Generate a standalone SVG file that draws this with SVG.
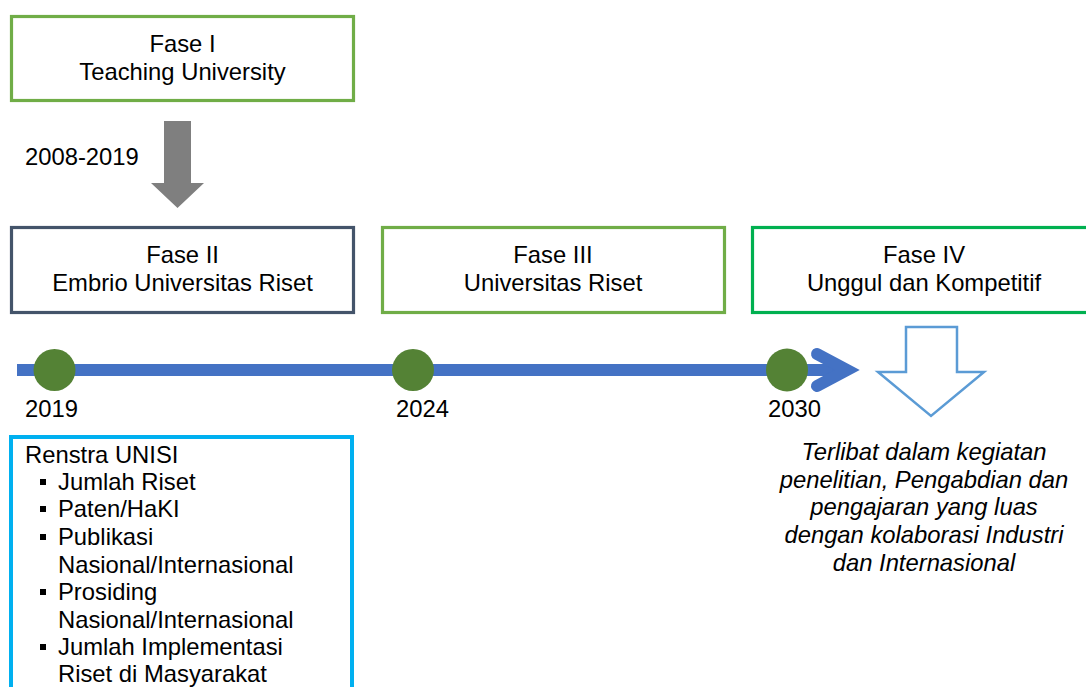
<svg xmlns="http://www.w3.org/2000/svg" width="1086" height="687" viewBox="0 0 1086 687">
<style>
text{font-family:"Liberation Sans",Arial,sans-serif;font-size:23.8px;fill:#000}
.c{text-anchor:middle}
.it{font-style:italic;text-anchor:middle}
.box{fill:#fff;stroke-width:3.2}
.dot{fill:#548235}
</style>
<rect width="1086" height="687" fill="#fff"/>
<g id="connectors">
<path id="arrow-gray" d="M164,121 H191 V183 H204 L177.5,208 L151,183 H164 Z" fill="#7f7f7f"/>
<line x1="17" y1="370" x2="842" y2="370" stroke="#4472C4" stroke-width="12"/>
<polyline points="817,354 847,370 817,386" fill="none" stroke="#4472C4" stroke-width="12" stroke-linecap="round" stroke-linejoin="miter"/>
<path id="arrow-hollow" d="M906,327 H957 V372 H984 L931,416 L878,372 H906 Z" fill="#fff" stroke="#5B9BD5" stroke-width="2.5" stroke-linejoin="miter"/>
</g>
<text x="25" y="165">2008-2019</text>
<g id="fase1">
<rect class="box" x="11.5" y="16.5" width="342" height="84" stroke="#70AD47"/>
<text class="c" x="182.5" y="52">Fase I</text>
<text class="c" x="182.5" y="80">Teaching University</text>
</g>
<g id="fase2">
<rect class="box" x="11.5" y="227.5" width="342" height="85" stroke="#44546A" stroke-width="3.6"/>
<text class="c" x="182.5" y="263">Fase II</text>
<text class="c" x="182.5" y="291">Embrio Universitas Riset</text>
</g>
<g id="fase3">
<rect class="box" x="382.5" y="227.5" width="342" height="85" stroke="#70AD47"/>
<text class="c" x="553" y="263">Fase III</text>
<text class="c" x="553" y="291">Universitas Riset</text>
</g>
<g id="fase4">
<rect class="box" x="752.5" y="227.5" width="340" height="85" stroke="#00B050"/>
<text class="c" x="924" y="263">Fase IV</text>
<text class="c" x="924" y="291">Unggul dan Kompetitif</text>
</g>
<g id="milestone-2019">
<circle class="dot" cx="54.5" cy="370" r="21"/>
<text x="25" y="417">2019</text>
</g>
<g id="milestone-2024">
<circle class="dot" cx="413" cy="370" r="21"/>
<text x="396" y="417">2024</text>
</g>
<g id="milestone-2030">
<ellipse class="dot" cx="787" cy="370" rx="21" ry="21.5"/>
<text x="768" y="417">2030</text>
</g>
<g id="renstra">
<rect x="11" y="437" width="341" height="270" fill="#fff" stroke="#00B0F0" stroke-width="4"/>
<text x="25" y="463">Renstra UNISI</text>
<g fill="#000">
<rect x="40" y="479" width="6" height="6"/>
<rect x="40" y="506" width="6" height="6"/>
<rect x="40" y="534" width="6" height="6"/>
<rect x="40" y="589" width="6" height="6"/>
<rect x="40" y="644" width="6" height="6"/>
</g>
<text x="58" y="490">Jumlah Riset</text>
<text x="58" y="517">Paten/HaKI</text>
<text x="58" y="545">Publikasi</text>
<text x="58" y="573">Nasional/Internasional</text>
<text x="58" y="600">Prosiding</text>
<text x="58" y="628">Nasional/Internasional</text>
<text x="58" y="655">Jumlah Implementasi</text>
<text x="58" y="682">Riset di Masyarakat</text>
</g>
<g id="outcome">
<text class="it" x="924" y="460">Terlibat dalam kegiatan</text>
<text class="it" x="924" y="488">penelitian, Pengabdian dan</text>
<text class="it" x="924" y="515">pengajaran yang luas</text>
<text class="it" x="924" y="543">dengan kolaborasi Industri</text>
<text class="it" x="924" y="571">dan Internasional</text>
</g>
</svg>
